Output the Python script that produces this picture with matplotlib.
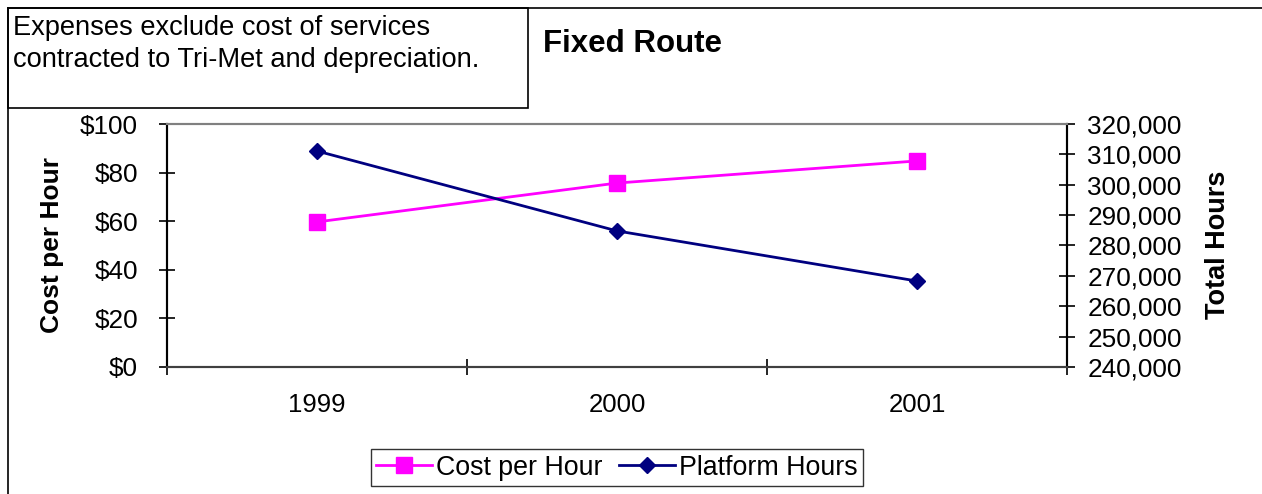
import matplotlib
matplotlib.use("Agg")
import matplotlib.pyplot as plt
from matplotlib.lines import Line2D
from matplotlib.patches import Rectangle
from matplotlib.ticker import FuncFormatter

years = ["1999", "2000", "2001"]
cost_per_hour = [59.7, 75.7, 84.8]
platform_hours = [311100, 284800, 268300]

plt.rcParams["font.family"] = ["Liberation Sans", "DejaVu Sans"]

W, H = 1262, 494
fig = plt.figure(figsize=(W / 100, H / 100), dpi=100)

def fx(px):
    return px / W

def fy(py):
    return 1 - py / H

# outer chart frame (left and top edges)
fig.add_artist(Line2D([fx(8), fx(8)], [0, fy(8)], color="black", lw=1.2, transform=fig.transFigure))
fig.add_artist(Line2D([fx(8), 1], [fy(8), fy(8)], color="black", lw=1.2, transform=fig.transFigure))

# note box
fig.add_artist(Rectangle((fx(8), fy(108)), fx(528) - fx(8), fy(8) - fy(108),
                         transform=fig.transFigure, fill=False, ec="black", lw=1.2))
fig.text(fx(13), fy(28), "Expenses exclude cost of services", fontsize=19.6, va="center", ha="left")
fig.text(fx(13), fy(60), "contracted to Tri-Met and depreciation.", fontsize=19.6, va="center", ha="left")

fig.text(fx(543), fy(44), "Fixed Route", fontsize=22.5, fontweight="bold", va="center", ha="left")

ax = fig.add_axes([fx(167), fy(367), fx(1067) - fx(167), fy(124) - fy(367)])
ax2 = ax.twinx()

PINK = "#ff00ff"
NAVY = "#000080"

x = list(range(len(years)))
ax.plot(x, cost_per_hour, color=PINK, lw=2, marker="s", ms=11, mec=PINK, mfc=PINK, zorder=3)
ax2.plot(x, platform_hours, color=NAVY, lw=2, marker="D", ms=8.3, mec=NAVY, mfc=NAVY, zorder=3)

ax.set_xlim(-0.5, 2.5)
ax.set_ylim(0, 100)
ax2.set_ylim(240000, 320000)

ax.set_xticks(x)
ax.set_xticklabels(years, fontsize=18.5)
ax.set_xticks([-0.5, 0.5, 1.5, 2.5], minor=True)
ax.tick_params(axis="x", which="major", length=0, pad=19)
ax.tick_params(axis="x", which="minor", direction="inout", length=12, width=1.2, color="black")

ax.set_yticks(range(0, 101, 20))
ax.yaxis.set_major_formatter(FuncFormatter(lambda v, p: f"${v:.0f}"))
ax.tick_params(axis="y", direction="inout", length=12, width=1.2, labelsize=18.8, pad=15)

ax2.set_yticks(range(240000, 320001, 10000))
ax2.yaxis.set_major_formatter(FuncFormatter(lambda v, p: f"{v:,.0f}"))
ax2.tick_params(axis="y", direction="inout", length=12, width=1.2, labelsize=18.8, pad=8.5)

for a in (ax, ax2):
    a.spines["top"].set_color("#808080")
    a.spines["top"].set_linewidth(1.5)
    a.spines["bottom"].set_color("#404040")
    a.spines["bottom"].set_linewidth(1.5)
    a.spines["left"].set_linewidth(1.5)
    a.spines["right"].set_linewidth(1.5)

fig.text(fx(52), fy(245), "Cost per Hour", rotation=90, fontsize=19, fontweight="bold", va="center", ha="center")
fig.text(fx(1218), fy(245), "Total Hours", rotation=90, fontsize=19.5, fontweight="bold", va="center", ha="center")

handles = [
    Line2D([], [], color=PINK, lw=2, marker="s", ms=11, mfc=PINK, mec=PINK),
    Line2D([], [], color=NAVY, lw=2, marker="D", ms=8.3, mfc=NAVY, mec=NAVY),
]
leg = fig.legend(handles, ["Cost per Hour", "Platform Hours"], loc="center",
                 bbox_to_anchor=(fx(617), fy(467.5)), ncol=2, fontsize=19.3,
                 frameon=True, fancybox=False, edgecolor="black", handlelength=2.1,
                 handletextpad=0.15, columnspacing=0.6, borderpad=0.2, borderaxespad=0)
leg.get_frame().set_linewidth(1.0)

fig.savefig("out.png", dpi=100)
